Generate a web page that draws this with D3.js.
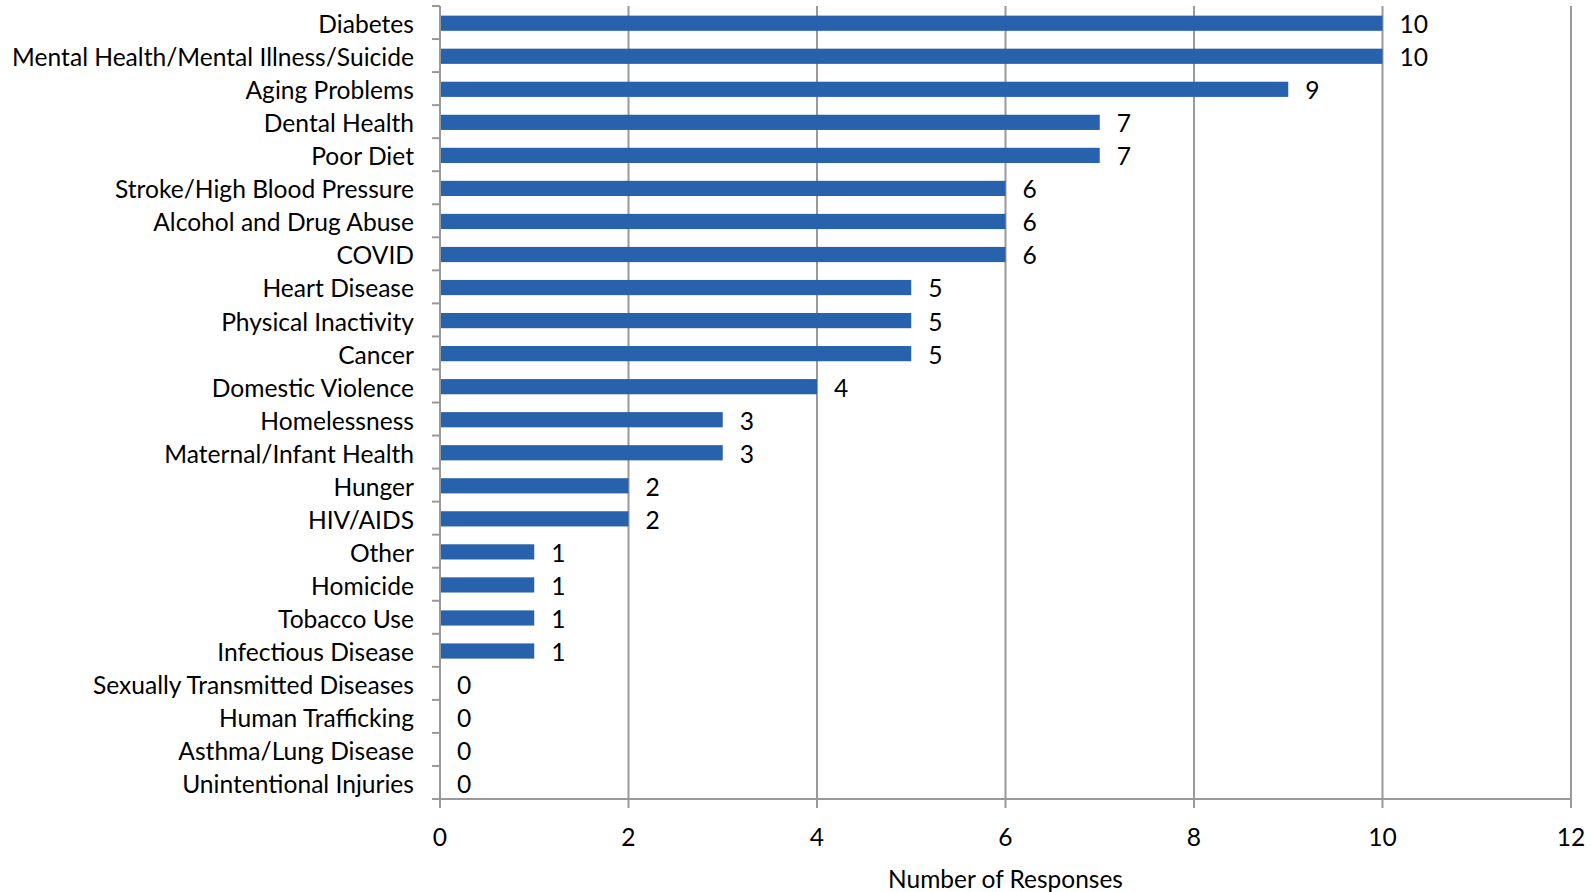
<!DOCTYPE html>
<html><head><meta charset="utf-8">
<script src="https://cdn.jsdelivr.net/npm/d3@7"></script>
<style>body{margin:0;background:#fff}svg{display:block}text{font-family:Lato,"Open Sans",sans-serif;fill:#000}</style>
</head><body><svg id="c" width="1591" height="892"></svg>
<script>
const categories = ["Diabetes","Mental Health/Mental Illness/Suicide","Aging Problems","Dental Health","Poor Diet","Stroke/High Blood Pressure","Alcohol and Drug Abuse","COVID","Heart Disease","Physical Inactivity","Cancer","Domestic Violence","Homelessness","Maternal/Infant Health","Hunger","HIV/AIDS","Other","Homicide","Tobacco Use","Infectious Disease","Sexually Transmitted Diseases","Human Trafficking","Asthma/Lung Disease","Unintentional Injuries"];
const values = [10,10,9,7,7,6,6,6,5,5,5,4,3,3,2,2,1,1,1,1,0,0,0,0];
const xTicks = [0,2,4,6,8,10,12];
const xTitle = "Number of Responses";

const svg = d3.select("#c");
const L = 440, R = 1571, T = 6, B = 799;
const x = d3.scaleLinear().domain([0,12]).range([L,R]);
const y = d3.scaleBand().domain(categories).range([T,B]).paddingInner(0.54).paddingOuter(0.27);
const band = (B-T)/categories.length;
const grid = "#999";

svg.append("g").selectAll("line").data(xTicks.filter(d=>d>0)).join("line")
  .attr("x1",d=>x(d)).attr("x2",d=>x(d)).attr("y1",T).attr("y2",B)
  .attr("stroke",grid).attr("stroke-width",2);

svg.append("g").selectAll("rect").data(categories).join("rect")
  .attr("x",x(0)).attr("y",d=>y(d)+0.7).attr("height",y.bandwidth())
  .attr("width",(d,i)=>x(values[i])-x(0)).attr("fill","#2862AD");

svg.append("line").attr("x1",L).attr("x2",L).attr("y1",T).attr("y2",B+9).attr("stroke",grid).attr("stroke-width",2);
svg.append("g").selectAll("line").data(d3.range(categories.length+1)).join("line")
  .attr("x1",L-8).attr("x2",L).attr("y1",i=>T+i*band).attr("y2",i=>T+i*band)
  .attr("stroke",grid).attr("stroke-width",2);

svg.append("line").attr("x1",L-8).attr("x2",R).attr("y1",B).attr("y2",B).attr("stroke",grid).attr("stroke-width",2);
svg.append("g").selectAll("line").data(xTicks).join("line")
  .attr("x1",d=>x(d)).attr("x2",d=>x(d)).attr("y1",B).attr("y2",B+9)
  .attr("stroke",grid).attr("stroke-width",2);

const lab = svg.append("g").selectAll("text").data(categories).join("text")
  .attr("x",414).attr("y",d=>y(d)+y.bandwidth()/2+2).attr("dy","0.35em")
  .attr("text-anchor","end").style("font-size","22px").text(d=>d);
const longest = lab.filter((d,i)=>i===1).node().getComputedTextLength();
const fs = 22*402/longest;
lab.style("font-size",fs+"px");

svg.append("g").selectAll("text").data(categories).join("text")
  .attr("x",(d,i)=>x(values[i])+17).attr("y",d=>y(d)+y.bandwidth()/2+2).attr("dy","0.35em")
  .style("font-size",fs+"px").text((d,i)=>values[i]);

svg.append("g").selectAll("text").data(xTicks).join("text")
  .attr("x",d=>x(d)).attr("y",837).attr("dy","0.35em").attr("text-anchor","middle")
  .style("font-size",fs+"px").text(d=>d);

const tt = svg.append("text").attr("x",(L+R)/2).attr("y",879).attr("dy","0.35em").attr("text-anchor","middle")
  .style("font-size","22px").text(xTitle);
const tw = tt.node().getComputedTextLength();
tt.style("font-size",(22*235/tw)+"px");
</script></body></html>
